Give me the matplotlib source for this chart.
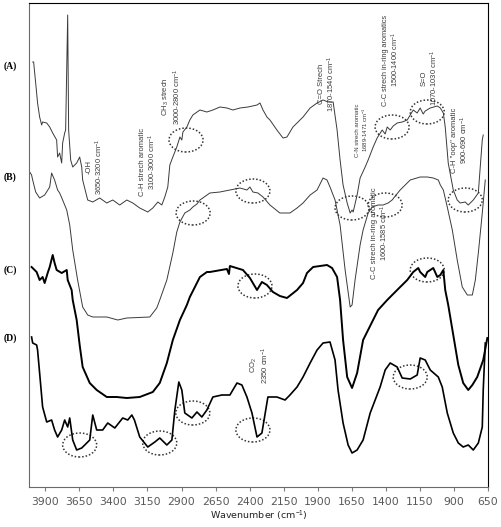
import matplotlib
matplotlib.use("Agg")
import matplotlib.pyplot as plt
from matplotlib.patches import Ellipse

# wavenumber (cm-1) and offset transmittance (a.u.)
wn_a = [3993, 3986, 3971, 3957, 3942, 3927, 3920, 3890, 3868, 3846, 3817, 3810,
        3795, 3780, 3773, 3758, 3751, 3736, 3729, 3714, 3699, 3670, 3648, 3633,
        3626, 3589, 3552, 3501, 3449, 3405, 3354, 3302, 3258, 3207, 3148, 3111,
        3074, 3045, 3023, 3001, 2986, 2964, 2935, 2912, 2898, 2890, 2861, 2839,
        2817, 2765, 2714, 2670, 2618, 2567, 2523, 2471, 2412, 2346, 2324, 2302,
        2273, 2251, 2200, 2155, 2126, 2082, 2008, 1956, 1905, 1861, 1824, 1787,
        1758, 1736, 1714, 1684, 1662, 1648, 1640, 1611, 1589, 1552, 1530, 1493,
        1464, 1427, 1405, 1390, 1368, 1346, 1317, 1280, 1243, 1199, 1170, 1148,
        1126, 1111, 1074, 1022, 1000, 978, 964, 942, 905, 876, 854, 817, 795,
        758, 721, 707, 692, 685]
t_a = [425, 425, 404, 384, 370, 362, 365, 364, 360, 354, 347, 330,
       334, 324, 344, 354, 357, 472, 357, 327, 320, 324, 330, 320,
       307, 287, 285, 289, 284, 287, 282, 287, 284, 279, 275, 279,
       285, 282, 290, 300, 322, 330, 340, 350, 347, 355, 360, 367,
       372, 377, 375, 377, 380, 379, 377, 379, 380, 382, 384, 377,
       370, 367, 357, 349, 350, 360, 370, 379, 384, 387, 385, 385,
       357, 327, 302, 284, 274, 277, 275, 292, 309, 320, 327, 340,
       349, 357, 353, 360, 357, 361, 364, 365, 367, 377, 374, 379,
       373, 376, 379, 381, 379, 374, 360, 324, 297, 287, 284, 285, 282,
       287, 294, 320, 347, 352]

wn_b = [4015, 4001, 3993, 3971, 3942, 3905, 3868, 3854, 3832, 3810, 3795, 3773,
        3743, 3721, 3699, 3663, 3626, 3589, 3552, 3449, 3368, 3302, 3133, 3082,
        3060, 3008, 2964, 2935, 2912, 2876, 2839, 2817, 2787, 2765, 2692, 2618,
        2545, 2471, 2420, 2398, 2376, 2339, 2302, 2251, 2178, 2104, 2052, 2008,
        1956, 1905, 1861, 1832, 1810, 1773, 1736, 1699, 1662, 1648, 1626, 1589,
        1567, 1530, 1501, 1457, 1420, 1383, 1354, 1295, 1221, 1148, 1096, 1052,
        1015, 1000, 978, 949, 912, 876, 839, 802, 765, 743, 721, 692, 670]
t_b = [315, 312, 307, 295, 289, 292, 300, 314, 307, 297, 294, 287,
       277, 262, 237, 207, 180, 172, 170, 170, 167, 169, 170, 179,
       187, 207, 234, 255, 265, 274, 277, 280, 283, 287, 294, 295,
       297, 299, 297, 300, 295, 294, 290, 282, 274, 274, 279, 284,
       292, 297, 309, 307, 300, 287, 262, 217, 180, 182, 207, 242,
       257, 274, 280, 282, 282, 284, 287, 297, 307, 310, 310, 309,
       307, 302, 297, 280, 257, 227, 200, 192, 192, 207, 234, 274, 307]

wn_c = [4001, 3964, 3942, 3920, 3905, 3883, 3868, 3846, 3832, 3817, 3780, 3743,
        3736, 3707, 3699, 3670, 3648, 3626, 3574, 3523, 3449, 3376, 3302, 3207,
        3111, 3060, 3008, 2964, 2912, 2861, 2839, 2765, 2714, 2692, 2567, 2552,
        2545, 2449, 2398, 2346, 2310, 2273, 2229, 2178, 2126, 2052, 2008, 1979,
        1934, 1832, 1795, 1758, 1736, 1714, 1684, 1648, 1611, 1567, 1501, 1457,
        1390, 1317, 1243, 1199, 1162, 1148, 1111, 1096, 1052, 1022, 1000, 978,
        964, 942, 905, 868, 832, 795, 765, 729, 685, 655]
t_c = [220, 215, 207, 210, 204, 214, 220, 232, 224, 217, 214, 217,
       207, 197, 187, 167, 142, 120, 104, 97, 90, 90, 89, 90,
       95, 104, 124, 147, 167, 182, 190, 210, 215, 215, 218, 213,
       221, 217, 209, 197, 205, 202, 195, 191, 189, 197, 204, 214,
       220, 222, 219, 210, 187, 147, 110, 99, 114, 147, 165, 177,
       187, 197, 207, 215, 219, 215, 210, 215, 219, 210, 212, 217,
       197, 182, 152, 122, 104, 97, 102, 110, 127, 149]

wn_d = [4001, 3993, 3964, 3957, 3942, 3920, 3890, 3854, 3832, 3810, 3780, 3758,
        3736, 3721, 3699, 3670, 3633, 3596, 3574, 3552, 3523, 3479, 3442, 3390,
        3332, 3295, 3265, 3246, 3207, 3148, 3096, 3060, 3008, 2971, 2949, 2920,
        2898, 2876, 2824, 2787, 2751, 2714, 2670, 2604, 2545, 2493, 2457, 2420,
        2383, 2346, 2310, 2266, 2200, 2140, 2104, 2052, 2008, 1956, 1905, 1861,
        1810, 1773, 1751, 1714, 1677, 1648, 1611, 1567, 1515, 1442, 1405, 1368,
        1317, 1280, 1221, 1170, 1148, 1111, 1074, 1015, 986, 949, 905, 868, 832,
        795, 758, 721, 692, 685, 670]
t_d = [150, 144, 142, 137, 114, 80, 65, 67, 57, 50, 57, 67,
       60, 69, 47, 37, 39, 44, 47, 72, 57, 57, 64, 59,
       69, 67, 72, 67, 50, 40, 45, 49, 42, 47, 77, 105,
       97, 74, 69, 75, 70, 77, 90, 92, 92, 104, 102, 90,
       74, 50, 54, 90, 90, 87, 92, 100, 110, 124, 137, 144,
       145, 127, 97, 64, 42, 34, 37, 47, 74, 100, 117, 124,
       120, 109, 108, 112, 129, 127, 117, 110, 100, 74, 54, 44, 40,
       42, 37, 44, 60, 97, 144]

# circled bands: (wavenumber, level)
circled = [(2867, 347), (1648, 279), (1354, 360), (1096, 375), (817, 287),
           (2815, 274), (2376, 296), (1405, 282),
           (2361, 201), (1096, 217),
           (3648, 42), (3060, 44), (2817, 74), (2376, 57), (1221, 110)]

notes = [
    (3534, 320, "-OH\n3650-3200 cm$^{-1}$", 5.5),
    (3140, 325, "C-H strech aromatic\n3100-3000 cm$^{-1}$", 5.5),
    (2971, 390, "CH$_3$ strech\n3000-2800 cm$^{-1}$", 5.5),
    (1829, 403, "C=O Strech\n1870-1540 cm$^{-1}$", 5.5),
    (1574, 357, "C-N strech aromatic\n1689-1471 cm$^{-1}$", 4.3),
    (1361, 427, "C-C strech in-ring aromatics\n1500-1400 cm$^{-1}$", 5.3),
    (1074, 409, "S=O\n1070-1030 cm$^{-1}$", 5.5),
    (854, 347, "C-H \"oop\" aromatic\n900-690 cm$^{-1}$", 5.5),
    (1442, 254, "C-C strech in-ring aromatic\n1600-1585 cm$^{-1}$", 5.5),
    (2324, 122, "CO$_2$\n2350 cm$^{-1}$", 5.5),
]

panel_names = ["(A)", "(B)", "(C)", "(D)"]
panel_y = [66, 177, 270, 338]

ticks = [3900, 3650, 3400, 3150, 2900, 2650, 2400, 2150, 1900, 1650, 1400, 1150, 900, 650]

plt.rcParams['font.family'] = ['DejaVu Sans']
plt.rcParams['mathtext.fontset'] = 'custom'
plt.rcParams['mathtext.rm'] = 'Liberation Sans'
plt.rcParams['mathtext.it'] = 'Liberation Sans'

fig = plt.figure(figsize=(5.01, 5.27), dpi=100)
ax = fig.add_axes([29 / 501, 40 / 527, 459 / 501, 484 / 527])

ax.plot(wn_a, t_a, color='#3a3a3a', lw=0.7)
ax.plot(wn_b, t_b, color='#3a3a3a', lw=0.7)
ax.plot(wn_c, t_c, color='black', lw=1.4)
ax.plot(wn_d, t_d, color='black', lw=1.2)

for w, t in circled:
    ax.add_patch(Ellipse((w, t), 250, 24, fill=False, ec='#333333',
                         lw=1.1, ls=(0, (1, 1.3))))

for w, t, s, fs in notes:
    ax.text(w, t, s, rotation=90, ha='center', va='center',
            multialignment='center', fontsize=fs, color='#3c3c3c',
            family='Liberation Sans', linespacing=1.1)

ax.set_xlim(4020, 650)
ax.set_ylim(0, 484)
ax.set_xticks(ticks)
ax.set_xticklabels([str(t) for t in ticks])
ax.set_yticks([])
ax.tick_params(axis='x', direction='out', length=3, width=0.8, color='#7f7f7f',
               labelsize=7.8, labelcolor='#595959', pad=4)
for side in ['left', 'bottom']:
    ax.spines[side].set_color('#6a6a6a')
for side in ['top', 'right']:
    ax.spines[side].set_color('black')
ax.set_xlabel("Wavenumber (cm$^{-1}$)", fontsize=6.8, color='#222222', labelpad=1.5)

for name, py in zip(panel_names, panel_y):
    fig.text(10 / 501, 1 - py / 527, name, ha='center', va='center',
             fontsize=7, fontweight='bold', family='Liberation Serif')

fig.savefig("out.png", dpi=100)
